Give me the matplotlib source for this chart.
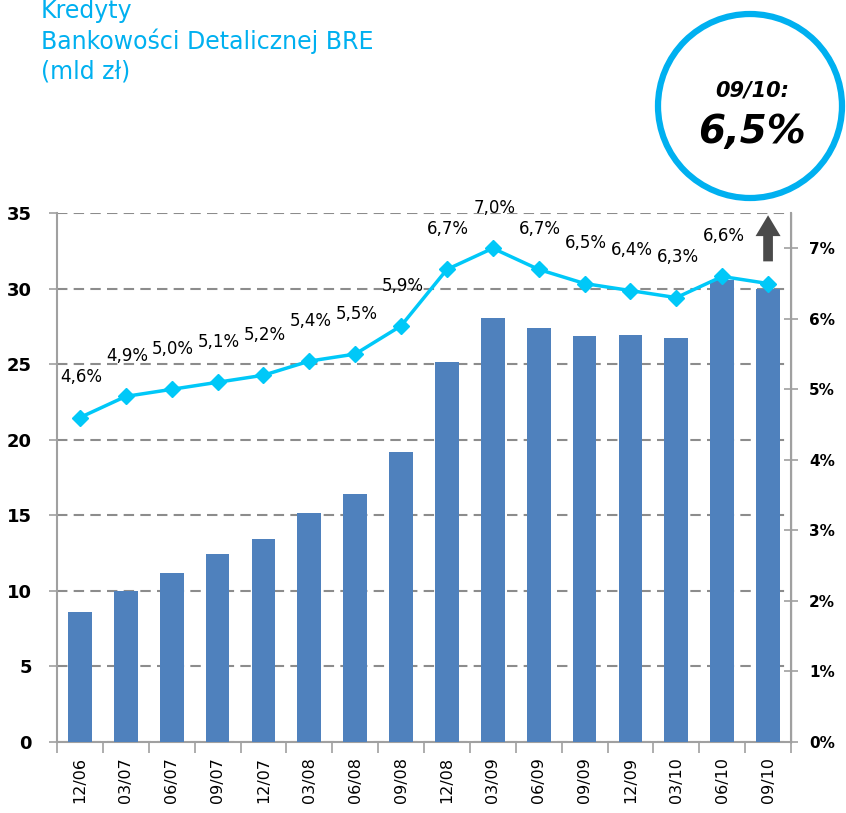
import matplotlib.pyplot as plt
import numpy as np
from matplotlib.patches import Ellipse

periods = ['12/06', '03/07', '06/07', '09/07', '12/07', '03/08', '06/08', '09/08',
           '12/08', '03/09', '06/09', '09/09', '12/09', '03/10', '06/10', '09/10']
kredyty = [8.6, 10.0, 11.2, 12.45, 13.4, 15.15, 16.4, 19.2,
           25.15, 28.05, 27.4, 26.85, 26.9, 26.7, 30.6, 30.0]
udzial = [4.6, 4.9, 5.0, 5.1, 5.2, 5.4, 5.5, 5.9,
          6.7, 7.0, 6.7, 6.5, 6.4, 6.3, 6.6, 6.5]
# the last point carries no label in the original (the arrow stands there)
udzial_labels = ['4,6%', '4,9%', '5,0%', '5,1%', '5,2%', '5,4%', '5,5%', '5,9%',
                 '6,7%', '7,0%', '6,7%', '6,5%', '6,4%', '6,3%', '6,6%', '']

bar_color = '#4F81BD'
line_color = '#00C8F8'
title_color = '#00B0F0'
axis_gray = '#A0A0A0'

fig = plt.figure(figsize=(8.46, 8.13), dpi=100)
ax = fig.add_axes([57 / 846, 1 - 742 / 813, 734 / 846, 529 / 813])
ax2 = ax.twinx()

x = np.arange(len(periods))
ax.bar(x, kredyty, width=0.52, color=bar_color, zorder=3)
ax.set_xlim(-0.5, len(periods) - 0.5)
ax.set_ylim(0, 35)
ax.set_yticks(range(0, 36, 5))
ax.yaxis.grid(True, color='#8C8C8C', linestyle=(0, (5, 3)), linewidth=1.5, zorder=0)
ax.set_axisbelow(True)

ax.set_xticks(x)
ax.set_xticklabels(periods, rotation=90, fontsize=11.5)
ax.set_xticks(np.arange(-0.5, len(periods), 1), minor=True)
ax.tick_params(axis='x', which='major', length=0, pad=11)
ax.tick_params(axis='x', which='minor', length=8, color=axis_gray, width=1.2)
ax.tick_params(axis='y', length=6, color=axis_gray, width=1.2, labelsize=13, pad=12)
for lbl in ax.get_yticklabels():
    lbl.set_fontweight('bold')

ax.spines['top'].set_visible(False)
ax2.spines['top'].set_visible(False)
for s in ['left', 'bottom']:
    ax.spines[s].set_color(axis_gray)
    ax.spines[s].set_linewidth(1.5)
ax2.spines['right'].set_color(axis_gray)
ax2.spines['right'].set_linewidth(1.5)
ax2.spines['left'].set_visible(False)
ax2.spines['bottom'].set_visible(False)

ax2.plot(x, udzial, color=line_color, lw=2.5, marker='D', markersize=8, zorder=4)
ax2.set_ylim(0, 7.5)
ax2.set_yticks(range(0, 8))
ax2.set_yticklabels([f'{v}%' for v in range(0, 8)], fontsize=11, fontweight='bold')
ax2.tick_params(axis='y', direction='inout', length=10, color=axis_gray, width=1.2, pad=8)

for xi, v, t in zip(x, udzial, udzial_labels):
    if t:
        ax2.annotate(t, (xi, v), xytext=(1, 29), textcoords='offset points',
                     ha='center', va='center', fontsize=12)

ax.annotate('', xy=(15, 34.85), xytext=(15, 31.8),
            arrowprops=dict(arrowstyle='simple,head_width=0.9,head_length=0.75,tail_width=0.35',
                            color='#4A4A4A', lw=0, mutation_scale=20, shrinkA=0, shrinkB=0))

title_lines = ['Kredyty', 'Bankowości Detalicznej BRE', '(mld zł)']
for i, line in enumerate(title_lines):
    fig.text(41 / 846, 1 - (18 + 30.5 * i) / 813, line,
             color=title_color, fontsize=17, va='baseline', ha='left')

fig.add_artist(Ellipse((750 / 846, 1 - 106 / 813), width=184 / 846, height=184 / 813,
                       transform=fig.transFigure, fill=False, ec=title_color, lw=4.5))
fig.text(752 / 846, 1 - 90 / 813, '09/10:', fontsize=15, fontweight='bold',
         fontstyle='italic', ha='center', va='center')
fig.text(752 / 846, 1 - 132 / 813, '6,5%', fontsize=28, fontweight='bold',
         fontstyle='italic', ha='center', va='center')

fig.savefig('out.png', dpi=100)
